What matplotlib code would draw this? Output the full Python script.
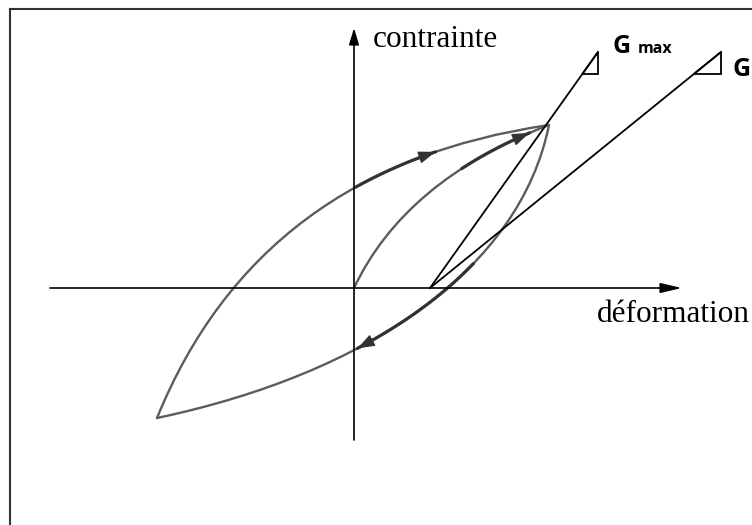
import numpy as np
import matplotlib
matplotlib.use("Agg")
import matplotlib.pyplot as plt
from matplotlib.path import Path
from matplotlib.patches import PathPatch, Polygon
from matplotlib.lines import Line2D

# Schematic hysteresis loop (strain, stress) in arbitrary units
peak = (1.95, 1.63)          # reversal point on the backbone
trough = (-1.97, -1.30)      # opposite reversal point
backbone_ctrl = [(0.51, 1.08)]                 # first loading from the origin
reloading_ctrl = [(-0.95, 1.21)]               # trough -> peak
unloading_ctrl = [(1.66, 0.20), (0.16, -0.85)] # peak -> trough

# Modulus construction
tangent_origin = (0.76, 0.0)
gmax_end = (2.44, 2.36)
gsec_end = (3.67, 2.36)
slope_tri = 0.22

axis_x_span = (-3.04, 3.28)
axis_y_span = (-1.52, 2.60)

CURVE = "#5c5c5c"
DARK = "#333333"

fig = plt.figure(figsize=(7.52, 5.25), dpi=100)
ax = fig.add_axes([0, 0, 1, 1])
ax.set_xlim(-3.54, 3.98)
ax.set_ylim(-2.37, 2.88)
ax.axis("off")


def bezier(points, t):
    p = np.asarray(points, float)
    t = np.atleast_1d(t)[:, None]
    if len(p) == 3:
        return (1 - t) ** 2 * p[0] + 2 * t * (1 - t) * p[1] + t ** 2 * p[2]
    return ((1 - t) ** 3 * p[0] + 3 * t * (1 - t) ** 2 * p[1]
            + 3 * t ** 2 * (1 - t) * p[2] + t ** 3 * p[3])


def draw_branch(points, lw=1.7, color=CURVE):
    code = Path.CURVE3 if len(points) == 3 else Path.CURVE4
    path = Path(points, [Path.MOVETO] + [code] * (len(points) - 1))
    ax.add_patch(PathPatch(path, fill=False, lw=lw, ec=color,
                           capstyle="round", joinstyle="round"))


def branch_arrow(points, t0, t1):
    seg = bezier(points, np.linspace(t0, t1, 30))
    ax.plot(seg[:, 0], seg[:, 1], color=DARK, lw=2.3, solid_capstyle="round")
    a, b = seg[-2], seg[-1]
    ax.annotate("", xy=b, xytext=a,
                arrowprops=dict(arrowstyle="-|>,head_length=1.05,head_width=0.38",
                                color=DARK, lw=1.0, shrinkA=0, shrinkB=0))


backbone = [(0.0, 0.0)] + backbone_ctrl + [peak]
reloading = [trough] + reloading_ctrl + [peak]
unloading = [peak] + unloading_ctrl + [trough]

for br in (backbone, reloading, unloading):
    draw_branch(br)

branch_arrow(reloading, 0.62, 0.79)
branch_arrow(backbone, 0.66, 0.93)
branch_arrow(unloading, 0.36, 0.645)

# Coordinate axes with arrow heads
ax.annotate("", xy=(axis_x_span[1], 0), xytext=(axis_x_span[0], 0),
            arrowprops=dict(arrowstyle="-|>,head_length=1.3,head_width=0.3",
                            color="black", lw=1.2, shrinkA=0, shrinkB=0))
ax.annotate("", xy=(0, axis_y_span[1]), xytext=(0, axis_y_span[0]),
            arrowprops=dict(arrowstyle="-|>,head_length=1.0,head_width=0.3",
                            color="black", lw=1.2, shrinkA=0, shrinkB=0))

# Gmax (initial tangent) and G (secant) lines with slope triangles
for end in (gmax_end, gsec_end):
    ax.plot([tangent_origin[0], end[0]], [tangent_origin[1], end[1]],
            color="black", lw=1.3)
    slope = (end[1] - tangent_origin[1]) / (end[0] - tangent_origin[0])
    tri = [end, (end[0], end[1] - slope_tri),
           (end[0] - slope_tri / slope, end[1] - slope_tri)]
    ax.add_patch(Polygon(tri, closed=True, fill=False, ec="black", lw=1.3))

serif = ["Liberation Serif", "DejaVu Serif"]
ax.text(0.19, 2.41, "contrainte", family=serif, fontsize=22.5, ha="left",
        va="baseline", color="black")
ax.text(2.43, -0.34, "déformation", family=serif, fontsize=22.5, ha="left",
        va="baseline", color="black")

sans = ["Open Sans", "Liberation Sans", "DejaVu Sans"]
ax.text(2.59, 2.35, "G", family=sans, fontweight="bold", fontsize=18,
        ha="left", va="baseline")
ax.text(2.84, 2.35, "max", family=sans, fontweight="bold", fontsize=11.5,
        ha="left", va="baseline")
ax.text(3.78, 2.12, "G", family=sans, fontweight="bold", fontsize=18,
        ha="left", va="baseline")

# Figure frame (left and top edges)
fig.add_artist(Line2D([10 / 752, 10 / 752], [0, 1 - 9 / 525],
                      transform=fig.transFigure, color="#333333", lw=1.5))
fig.add_artist(Line2D([10 / 752, 1], [1 - 9 / 525, 1 - 9 / 525],
                      transform=fig.transFigure, color="#333333", lw=1.5))

fig.savefig("out.png", dpi=100, facecolor="white")
